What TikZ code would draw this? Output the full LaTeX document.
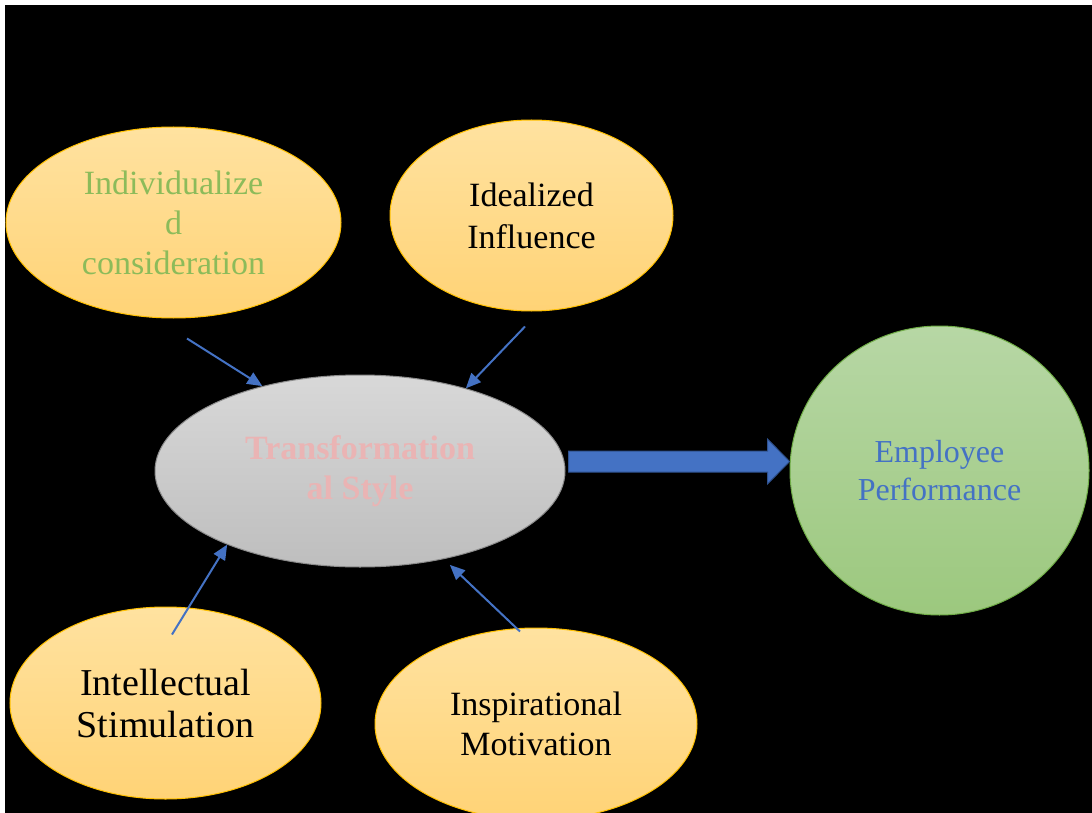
\documentclass[tikz,border=0pt]{standalone}
\usepackage{fontspec}
\setmainfont{Liberation Serif}
\usepackage{tikz}
\usetikzlibrary{
    arrows.meta,
    shapes.geometric,
    calc
}
\definecolor{goldline}{RGB}{255,192,0}
\definecolor{goldtop}{RGB}{255,226,160}
\definecolor{goldbottom}{RGB}{255,211,118}
\definecolor{greytop}{RGB}{216,216,216}
\definecolor{greybottom}{RGB}{190,190,190}
\definecolor{greyline}{RGB}{140,140,140}
\definecolor{greentop}{RGB}{183,215,165}
\definecolor{greenbottom}{RGB}{156,200,126}
\definecolor{greenline}{RGB}{112,173,71}
\definecolor{accentblue}{RGB}{68,114,196}
\definecolor{darkblue}{RGB}{47,82,143}
\definecolor{leafgreen}{RGB}{140,187,90}
\definecolor{palered}{RGB}{234,180,180}
\tikzstyle{factor} = [
    ellipse,
    draw=goldline,
    line width=1pt,
    top color=goldtop,
    bottom color=goldbottom,
    inner sep=0pt,
    align=center,
    font=\fontsize{34}{41}\selectfont
]
\tikzstyle{core} = [
    ellipse,
    draw=greyline,
    line width=1pt,
    top color=greytop,
    bottom color=greybottom,
    inner sep=0pt,
    align=center,
    text=palered,
    font=\fontsize{34}{40}\selectfont\bfseries
]
\tikzstyle{outcome} = [
    ellipse,
    draw=greenline,
    line width=1pt,
    top color=greentop,
    bottom color=greenbottom,
    inner sep=0pt,
    align=center,
    text=accentblue,
    font=\fontsize{32}{38}\selectfont
]
\tikzstyle{link} = [
    -{Triangle[length=15pt, width=13pt]},
    line width=2pt,
    draw=accentblue
]
\tikzstyle{bigarrow} = [
    fill=accentblue,
    draw=darkblue,
    line width=1pt
]

\begin{document}
\begin{tikzpicture}[x=1pt, y=-1pt]
        % page and background
        \fill[white] (0,0) rectangle (1092,813);
        \fill[black] (5,5) rectangle (1092,813);
        \useasboundingbox (0,0) rectangle (1092,813);

        % Transformational style in the middle
        \node[core, minimum width=410pt, minimum height=192pt] (trans) at (360,471) {Transformation\\al Style};

        % the four dimensions
        \node[factor, text=leafgreen, minimum width=335pt, minimum height=191pt,
              font=\fontsize{34}{40}\selectfont] (indiv) at (173.5,222.5) {Individualize\\d\\consideration};
        \node[factor, minimum width=283pt, minimum height=191pt,
              font=\fontsize{34}{42}\selectfont] (ideal) at (531.5,215.5) {Idealized\\Influence};
        \node[factor, minimum width=311pt, minimum height=192pt,
              font=\fontsize{38}{42}\selectfont] (intel) at (165.5,703) {Intellectual\\Stimulation};
        \node[factor, minimum width=322pt, minimum height=192pt,
              font=\fontsize{34}{40}\selectfont] (inspir) at (536,724) {Inspirational\\Motivation};

        % Employee performance
        \node[outcome, minimum width=299pt, minimum height=289pt] (emp) at (939.5,470.5) {Employee\\Performance};

        % arrows into the core
        \coordinate (indivout) at ($(indiv.south)+(13.5,20)$);
        \coordinate (idealout) at ($(ideal.south)+(-6.5,15)$);
        \coordinate (intelout) at ($(intel.north)+(6.5,28)$);
        \coordinate (inspirout) at ($(inspir.north)+(-16,4)$);
        \draw[link] (indivout) -- (trans.139);
        \draw[link] (idealout) -- (trans.38);
        \draw[link] (intelout) -- (trans.209);
        \draw[link] (inspirout) -- ($(trans.314)+(5,6)$);

        % block arrow to the outcome
        \coordinate (shaft) at ($(trans.east)+(3,-9.5)$);
        \coordinate (tip) at ($(emp.west)+(0,-9)$);
        \draw[bigarrow] ($(shaft)+(0,-10.5)$) -- ($(tip)+(-22,-10.5)$) -- ($(tip)+(-22,-22.5)$)
            -- (tip) -- ($(tip)+(-22,22.5)$) -- ($(tip)+(-22,10.5)$) -- ($(shaft)+(0,10.5)$) -- cycle;
    \end{tikzpicture}
\end{document}
